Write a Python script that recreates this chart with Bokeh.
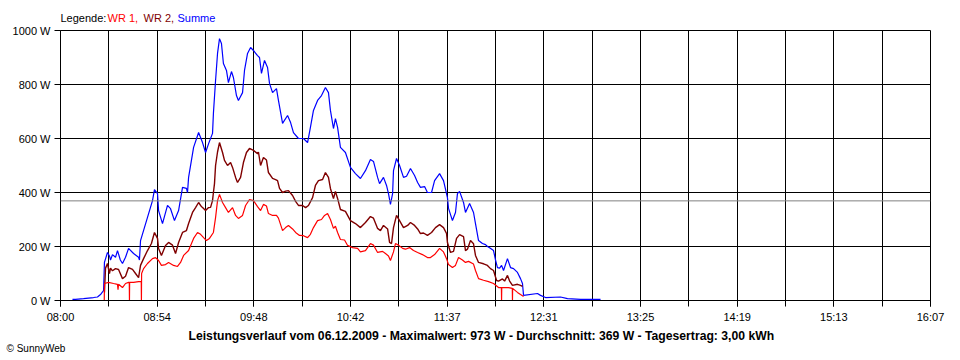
import numpy as np
from bokeh.plotting import figure
from bokeh.layouts import column
from bokeh.models import Range1d, FixedTicker, CustomJSTickFormatter, Span, Title
from bokeh.core.properties import value
from bokeh.embed import file_html
from bokeh.resources import INLINE

# ---- data (minutes since 08:00, watts) ----
summe_min = [6.7, 8.4, 12.9, 18.5, 20.7, 22.4, 24.1, 24.6, 26.3, 27.4, 28.0, 29.1, 30.8, 31.9, 33.5,
             34.7, 36.4, 38.1, 40.9, 43.7, 44.2, 44.8, 48.7, 51.5, 52.6, 54.3, 54.9, 57.1, 59.9, 61.6,
             63.8, 66.1, 68.3, 70.5, 71.1, 71.7, 74.5, 77.3, 79.5, 81.2, 82.9, 85.1, 85.6, 86.8, 87.9,
             89.0, 90.1, 91.2, 92.9, 94.0, 95.7, 96.8, 98.5, 99.6, 101.9, 103.0, 104.7, 106.4, 108.0,
             110.3, 111.4, 112.5, 114.2, 115.9, 117.0, 118.7, 120.9, 122.0, 124.3, 127.1, 128.8, 130.4,
             133.2, 136.0, 138.3, 139.9, 141.6, 143.9, 146.1, 148.3, 150.0, 151.1, 152.8, 153.9, 155.1,
             156.7, 159.5, 162.3, 165.1, 167.9, 170.7, 173.5, 175.2, 177.5, 178.6, 180.8, 182.5, 183.6,
             184.7, 185.9, 186.4, 188.1, 189.8, 192.0, 193.7, 195.9, 198.2, 199.9, 201.5, 203.8, 205.4,
             207.7, 209.4, 212.2, 214.4, 216.6, 217.2, 219.4, 221.1, 222.2, 223.4, 225.6, 226.7, 229.0,
             231.2, 232.3, 234.0, 236.2, 237.9, 239.0, 240.2, 242.4, 243.5, 244.6, 245.8, 246.9, 248.0,
             250.2, 251.9, 253.6, 255.8, 257.5, 258.6, 259.2, 267.0, 268.7, 271.5, 279.9, 283.8, 291.1,
             302.3]
summe_w = [4, 4, 7, 11, 13, 22, 37, 141, 178, 165, 150, 170, 160, 185, 150,
           137, 160, 193, 174, 160, 150, 222, 308, 370, 411, 396, 333, 285, 352, 340,
           296, 333, 419, 415, 400, 456, 567, 622, 585, 548, 581, 619, 693, 815, 915,
           970, 952, 878, 852, 807, 848, 826, 759, 741, 770, 852, 915, 937, 926,
           907, 900, 841, 889, 863, 804, 770, 785, 741, 656, 685, 659, 622,
           600, 600, 585, 641, 704, 741, 759, 789, 770, 704, 637, 674, 641,
           567, 548, 493, 470, 452, 481, 522, 515, 456, 433, 456, 426, 396,
           356, 396, 481, 526, 500, 456, 460, 489, 463, 437, 419, 422, 400,
           400, 444, 470, 444, 381, 341, 296, 326, 396, 404, 363, 326, 359,
           326, 285, 222, 211, 207, 200, 195, 185, 150, 122, 120, 130, 111,
           155, 122, 118, 104, 81, 63, 19, 26, 19, 11, 13, 7, 4,
           4]

wr2_min = [24.6, 25.2, 26.3, 27.4, 28.0, 29.1, 30.8, 32.5, 34.7, 36.4, 38.1, 40.3, 42.0, 43.7, 44.8,
           46.5, 48.7, 50.9, 52.6, 54.3, 54.9, 56.5, 58.8, 60.5, 62.7, 64.4, 66.1, 68.3, 70.5, 71.7,
           73.9, 75.6, 77.3, 78.4, 79.5, 81.2, 82.9, 84.0, 85.1, 85.6, 86.2, 86.8, 87.9, 89.0, 90.7,
           91.8, 93.5, 95.2, 96.3, 98.0, 99.1, 100.8, 102.4, 104.1, 105.8, 108.0, 110.3, 110.8, 112.0,
           113.6, 115.3, 116.4, 118.7, 120.4, 121.5, 122.6, 124.3, 126.0, 127.6, 129.9, 131.6, 133.2,
           135.5, 137.2, 138.8, 141.1, 142.7, 144.4, 146.7, 148.3, 150.0, 151.1, 152.8, 153.9, 155.1,
           156.7, 159.5, 162.3, 165.1, 167.9, 170.7, 173.5, 175.2, 177.5, 179.1, 180.8, 183.1, 184.2,
           185.3, 186.4, 188.1, 189.8, 192.0, 194.3, 195.9, 198.2, 199.9, 201.5, 203.2, 205.4, 207.7,
           209.9, 212.2, 214.4, 216.1, 216.6, 218.3, 220.0, 221.7, 223.4, 225.6, 226.7, 227.8, 229.5,
           231.2, 232.3, 234.0, 236.8, 239.0, 240.7, 242.4, 244.1, 245.2, 247.4, 248.6, 250.2, 251.4,
           253.0, 255.8, 257.5, 258.6]
wr2_w = [30, 120, 137, 100, 120, 110, 118, 115, 81, 90, 122, 115, 100, 85, 130,
         155, 185, 211, 252, 230, 193, 167, 204, 215, 205, 174, 215, 252, 259, 285,
         326, 344, 363, 352, 344, 333, 344, 345, 370, 400, 433, 500, 550, 585, 548,
         519, 500, 511, 493, 456, 437, 456, 511, 548, 563, 556, 544, 550, 500,
         530, 520, 474, 452, 448, 444, 415, 400, 405, 407, 389, 367, 352,
         352, 344, 352, 381, 426, 444, 448, 474, 456, 415, 378, 404, 378,
         337, 330, 296, 285, 270, 289, 311, 305, 267, 259, 278, 265, 215,
         211, 270, 315, 296, 270, 278, 289, 278, 265, 248, 250, 241, 252,
         270, 281, 270, 248, 215, 178, 182, 230, 244, 237, 185, 190, 222,
         210, 167, 141, 136, 130, 118, 111, 74, 72, 80, 72, 93, 72,
         56, 60, 56, 52]

wr1_min = [24.5, 24.6, 26.9, 29.7, 31.9, 32.2, 32.5, 34.7, 36.4, 38.1, 38.5, 38.6, 38.7, 40.9, 43.7,
           45.2, 45.3, 45.4, 46.5, 48.7, 51.5, 53.2, 54.9, 56.5, 58.8, 60.5, 63.3, 65.5, 67.2, 68.9,
           71.7, 74.5, 76.7, 78.4, 80.1, 81.7, 83.4, 85.6, 86.8, 87.9, 89.0, 90.7, 92.4, 94.0, 96.3,
           98.0, 99.6, 101.9, 103.6, 105.8, 108.0, 110.3, 112.0, 113.6, 115.3, 116.4, 118.7, 120.9,
           122.0, 124.3, 126.0, 127.6, 129.9, 131.6, 133.8, 136.0, 138.3, 139.9, 141.6, 143.9, 146.1,
           147.8, 149.5, 151.1, 152.8, 153.9, 155.1, 156.7, 159.0, 160.7, 163.5, 166.3, 167.9, 170.7,
           173.5, 175.2, 177.5, 180.3, 181.9, 183.6, 184.7, 186.4, 187.5, 189.2, 191.5, 193.1, 195.4,
           197.6, 199.9, 202.6, 205.4, 207.1, 209.4, 212.2, 214.4, 216.1, 217.2, 219.4, 221.1, 222.8,
           225.0, 226.7, 228.4, 231.2, 232.3, 234.0, 236.8, 239.6, 242.4, 245.2, 246.8, 246.9, 247.0,
           250.8, 252.9, 253.0, 253.1, 255.8, 257.5, 259.2]
wr1_w = [0, 63, 67, 63, 60, 40, 60, 48, 63, 67, 67, 0, 67, 67, 70,
         70, 0, 100, 118, 137, 155, 159, 148, 130, 133, 141, 130, 126, 141, 167,
         185, 230, 252, 245, 233, 222, 230, 252, 307, 370, 393, 363, 344, 326, 344,
         315, 304, 315, 352, 374, 370, 348, 333, 356, 350, 322, 315, 315,
         305, 259, 270, 278, 265, 252, 241, 240, 233, 245, 270, 296, 300,
         315, 322, 300, 267, 275, 252, 226, 224, 204, 196, 193, 180, 185,
         211, 205, 178, 182, 174, 165, 148, 180, 211, 205, 193, 190, 196,
         185, 178, 170, 159, 159, 170, 193, 180, 155, 133, 122, 130, 159,
         150, 141, 145, 135, 111, 81, 75, 70, 63, 48, 48, 0, 48,
         48, 45, 0, 45, 30, 22, 15]

average_w = 369
tick_labels = ["08:00", "08:54", "09:48", "10:42", "11:37", "12:31", "13:25", "14:19", "15:13", "16:07"]
y_ticks = [0, 200, 400, 600, 800, 1000]
span_min = 487

legend_texts = ["Legende:", "WR 1,", "WR 2,", "Summe"]
legend_colors = ["black", "#FF0000", "#800000", "#0000FF"]
title_text = ("Leistungsverlauf vom 06.12.2009 - Maximalwert: 973 W - Durchschnitt: 369 W "
              "- Tagesertrag: 3,00 kWh")
credit_text = "© SunnyWeb"
FONT = "Liberation Sans"
W = 960
FRAME_W = 870

# ---- top strip: coloured legend text (its frame is aligned with the chart frame) ----
top = figure(width=W, height=24, x_range=Range1d(0, FRAME_W), y_range=Range1d(0, 24),
             output_backend="svg", toolbar_location=None, x_axis_location=None,
             y_axis_location=None, min_border_left=60, min_border_right=30,
             min_border_top=0, min_border_bottom=0)
top.grid.visible = False
top.outline_line_color = None
top.text(x=[0, 47, 83, 117], y=[7, 7, 7, 7], text=legend_texts, text_color=legend_colors,
         text_font=value(FONT), text_font_size=value("11px"), text_baseline="middle", text_align="left")

# ---- main chart ----
p = figure(width=W, height=336, x_range=Range1d(0, span_min), y_range=Range1d(0, 1000),
           output_backend="svg", toolbar_location=None,
           min_border_left=60, min_border_right=30, min_border_top=6, min_border_bottom=60)
p.background_fill_color = "white"
p.border_fill_color = "white"
p.outline_line_color = "black"
p.outline_line_width = 1

major = list(np.linspace(0, span_min, len(tick_labels)))
minor = list(np.linspace(0, span_min, 2 * len(tick_labels) - 1))
p.xaxis.ticker = FixedTicker(ticks=major, minor_ticks=minor)
p.xaxis.formatter = CustomJSTickFormatter(args=dict(labels=tick_labels, span=span_min, n=len(tick_labels) - 1),
                                          code="return labels[Math.round(tick * n / span)];")
p.yaxis.ticker = FixedTicker(ticks=y_ticks)
p.yaxis.formatter = CustomJSTickFormatter(code="return tick.toFixed(0) + ' W';")

for ax in (p.xaxis[0], p.yaxis[0]):
    ax.axis_line_color = "black"
    ax.major_tick_line_color = "black"
    ax.minor_tick_line_color = "black"
    ax.major_tick_in = 0
    ax.major_tick_out = 6
    ax.minor_tick_in = 0
    ax.minor_tick_out = 6
    ax.major_label_text_font = FONT
    ax.major_label_text_font_size = "11px"
    ax.major_label_text_color = "black"
p.yaxis.minor_tick_line_color = None
p.xaxis.major_label_standoff = 4
p.yaxis.major_label_standoff = 4

p.xgrid.grid_line_color = "black"
p.xgrid.minor_grid_line_color = "black"
p.ygrid.grid_line_color = "black"

p.add_layout(Span(location=average_w, dimension="width", line_color="#808080", line_width=1))

p.line(summe_min, summe_w, line_color="#0000FF", line_width=1.2)
p.line(wr2_min, wr2_w, line_color="#800000", line_width=1.4)
p.line(wr1_min, wr1_w, line_color="#FF0000", line_width=1.2)

# ---- bottom texts as titles below the chart ----
p.add_layout(Title(text=title_text, align="left", offset=128, standoff=2, text_font=FONT,
                   text_font_size="12.2px", text_font_style="bold", text_color="black"), "below")
credit = Title(text=credit_text, align="left", offset=-54, standoff=0, text_font=FONT,
               text_font_size="10px", text_font_style="normal", text_color="black")
try:
    credit.standoff = -20
except Exception:
    pass
p.add_layout(credit, "below")

layout = column(top, p, spacing=0)
open("out.html", "w").write(file_html(layout, INLINE))
